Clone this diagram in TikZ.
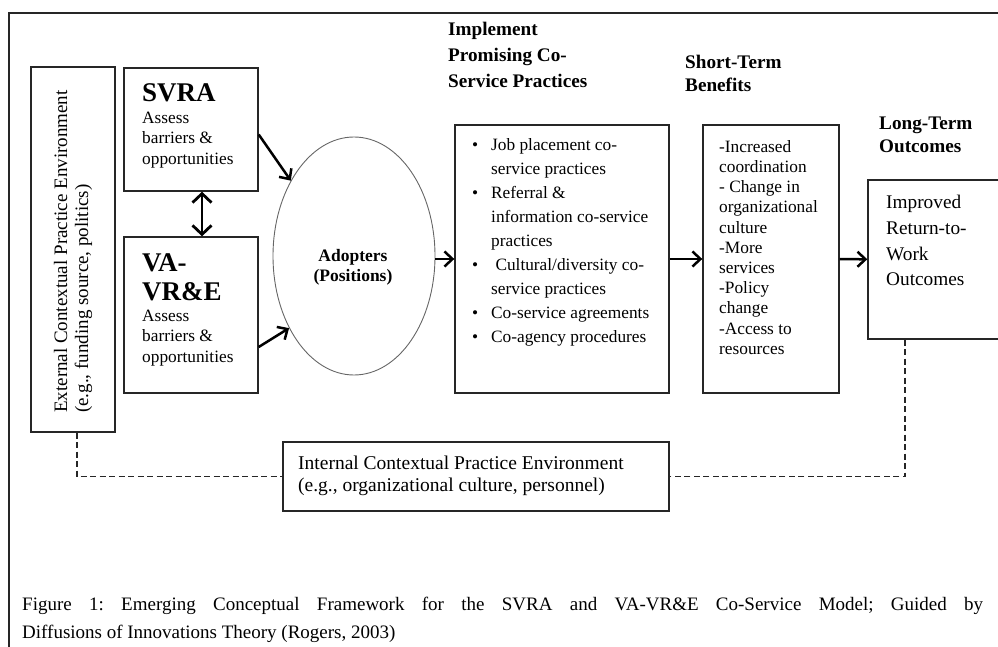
\documentclass[tikz,border=0pt]{standalone}
\usepackage{fontspec}
\setmainfont{Liberation Serif}
\usepackage{tikz}
\usetikzlibrary{shapes,positioning}
\usetikzlibrary{calc}
\usetikzlibrary{arrows.meta}
\tikzset{
	boite/.style={draw=black!85,line width=1.4pt,inner sep=0pt},
	texte/.style={inner sep=0pt,align=left,anchor=north west,font=\fontsize{17.3}{20.2}\selectfont},
	titre/.style={inner sep=0pt,align=left,anchor=north west,font=\fontsize{19.2}{23}\selectfont\bfseries},
	gros/.style={inner sep=0pt,align=left,anchor=north west,font=\fontsize{27}{29}\selectfont\bfseries},
	fleche/.style={line width=2.5pt,-{Straight Barb[length=8pt,width=15pt]}},
	tirets/.style={line width=1.4pt,black!85,dash pattern=on 6pt off 3.5pt}
}

\begin{document}
\begin{tikzpicture}[x=1pt,y=-1pt]
	
	\useasboundingbox (0,0) rectangle (998,647);
	\clip (0,0) rectangle (998,647);
	
	%Cadre
	\draw[line width=2pt,black!85] (9,660) -- (9,13) -- (1010,13);
	
	%Boites
	\node[boite,minimum width=84pt,minimum height=365pt] (ext) at (73,249.5) {};
	\node[boite,minimum width=134pt,minimum height=123pt] (svra) at (191,129.5) {};
	\node[boite,minimum width=134pt,minimum height=156pt] (vavre) at (191,315) {};
	\node[ellipse,draw=black!60,line width=0.9pt,inner sep=0pt,minimum width=162pt,minimum height=238pt] (adopters) at (354,256) {};
	\node[boite,minimum width=214pt,minimum height=268pt] (practices) at (562,259) {};
	\node[boite,minimum width=136pt,minimum height=268pt] (benefits) at (771,259) {};
	\node[boite,minimum width=160pt,minimum height=159pt] (outcomes) at (948,259.5) {};
	\node[boite,minimum width=386pt,minimum height=69pt] (internal) at (476,476.5) {};
	
	%Textes
	\node[texte,rotate=90,anchor=west,font=\fontsize{19}{21}\selectfont] (extlbl) at (73,413) {External Contextual Practice Environment\\(e.g., funding source, politics)};
	
	\node[gros] (svralbl) at (142,83) {SVRA};
	\node[texte] (svrabody) at (142,112) {Assess\\barriers \&\\opportunities};
	\node[gros] (vavrelbl) at (142,253) {VA-\\VR\&E};
	\node[texte] (vavrebody) at (142,310) {Assess\\barriers \&\\opportunities};
	
	\node[align=center,inner sep=0pt,font=\fontsize{17.5}{20}\selectfont\bfseries] (adopterslbl) at (353,267) {Adopters\\(Positions)};
	
	\node[titre,font=\fontsize{19.2}{26}\selectfont\bfseries] (practiceshdr) at (448,22) {Implement\\Promising Co-\\Service Practices};
	\node[texte,font=\fontsize{17.3}{24}\selectfont] (practiceslist) at (472,138) {%
		\makebox[19pt][l]{\textbullet}Job placement co-\\
		\hspace*{19pt}service practices\\
		\makebox[19pt][l]{\textbullet}Referral \&\\
		\hspace*{19pt}information co-service\\
		\hspace*{19pt}practices\\
		\makebox[19pt][l]{\textbullet}\ Cultural/diversity co-\\
		\hspace*{19pt}service practices\\
		\makebox[19pt][l]{\textbullet}Co-service agreements\\
		\makebox[19pt][l]{\textbullet}Co-agency procedures};
	
	\node[titre] (benefitshdr) at (685,54.5) {Short-Term\\Benefits};
	\node[texte] (benefitslist) at (719,140) {-Increased\\coordination\\- Change in\\organizational\\culture\\-More\\services\\-Policy\\change\\-Access to\\resources};
	
	\node[titre] (outcomeshdr) at (879,116.5) {Long-Term\\Outcomes};
	\node[texte,font=\fontsize{19.3}{25.8}\selectfont] (outcomesbody) at (886,195) {Improved\\Return-to-\\Work\\Outcomes};
	
	\node[texte,font=\fontsize{19.5}{22}\selectfont] (internallbl) at (298,456) {Internal Contextual Practice Environment\\(e.g., organizational culture, personnel)};
	
	\node[texte,font=\fontsize{19}{28}\selectfont\frenchspacing] (caption) at (22,597) {\makebox[961pt][s]{Figure 1: Emerging Conceptual Framework for the SVRA and VA-VR\&E Co-Service Model; Guided by}\\Diffusions of Innovations Theory (Rogers, 2003)};
	
	%Fleches
	\draw[fleche] ([yshift=-5pt]svra.east) -- (adopters.130);
	\draw[fleche] ([yshift=-32pt]vavre.east) -- (adopters.228);
	\draw[line width=2.8pt,{Straight Barb[length=9pt,width=19pt]}-{Straight Barb[length=9pt,width=19pt]}] ([xshift=11pt]svra.south) -- ([xshift=11pt]vavre.north);
	\draw[fleche] (adopters.east |- practices.west) -- (practices.west);
	\draw[fleche] (practices) -- (benefits);
	\draw[fleche] (benefits) -- (outcomes);
	
	%Pointilles
	\draw[tirets] ([xshift=4pt]ext.south) |- (internal.west);
	\draw[tirets] ([xshift=-43pt]outcomes.south) |- (internal.east);
	
\end{tikzpicture}
\end{document}
